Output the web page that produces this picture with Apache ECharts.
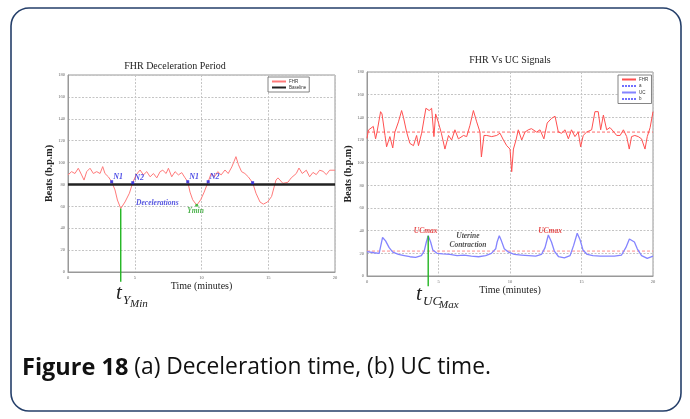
<!DOCTYPE html>
<html><head><meta charset="utf-8">
<script src="https://cdn.jsdelivr.net/npm/echarts@6/dist/echarts.min.js"></script>
<style>html,body{margin:0;padding:0;background:#fff}#c{width:690px;height:419px}</style>
</head><body><div id="c"></div>
<script>
// ---- data ----
const xTicks = [0, 5, 10, 15, 20];
const yTicks = [0, 20, 40, 60, 80, 100, 120, 140, 160, 180];
const titleA = 'FHR Deceleration Period';
const titleB = 'FHR Vs UC Signals';
const fhrA = [[0,88.7],[0.27,91.7],[0.52,90],[0.77,94.8],[1.02,88.7],[1.2,84],[1.4,91.7],[1.65,94.8],[1.9,90],[2.15,91.7],[2.4,90],[2.6,96.3],[2.77,90],[3.02,87],[3.27,82.5],[3.52,75],[3.7,65.8],[3.95,58],[4.27,64],[4.6,72],[4.85,81.6],[5.1,88.7],[5.4,93.2],[5.65,88.7],[5.9,91.7],[6.15,87],[6.4,90],[6.65,86],[6.9,91.7],[7.1,93],[7.35,90],[7.52,94.8],[7.77,87],[8.02,91.7],[8.27,88.7],[8.52,90.8],[8.77,86],[8.97,82.5],[9.14,73],[9.34,66],[9.64,61],[9.94,66],[10.2,73],[10.5,82.5],[10.72,90],[10.97,87],[11.22,91.7],[11.47,88.7],[11.76,93.2],[12.0,90],[12.27,96],[12.43,100.8],[12.58,105.4],[12.77,98],[13.0,91.7],[13.25,90],[13.5,87],[13.83,81.6],[14.08,72],[14.38,64],[14.63,62],[14.95,64],[15.25,69],[15.58,84],[15.73,86],[16.1,81],[16.47,82],[16.72,86],[17.1,90],[17.3,95],[17.55,90],[17.85,93],[18.1,87],[18.35,91],[18.6,89],[18.85,93],[19.1,92],[19.35,89],[19.6,93],[20,93]];
const baselineA = 80;
const nPointsA = [[3.27,82.5,'N1'],[4.85,81.6,'N2'],[8.97,82.5,'N1'],[10.5,82.5,'N2'],[13.83,81.6,'']];
const yMinA = [3.95, 58];
const yMinA2 = [9.64, 61];
const guideBottom = -9;
const notesA = [[5.1,62.6,'Decelerations']];
const notesA2 = [[9.55,55.5,'Ymin']];
const fhrB = [[0,121.4],[0.1,128.8],[0.44,132],[0.6,121],[0.7,127],[0.95,145],[1.05,143],[1.26,124],[1.37,114],[1.6,123],[1.8,113],[1.95,127],[2.2,136],[2.42,146],[2.55,140],[2.77,127],[3.0,117],[3.25,115],[3.47,124],[3.6,115],[3.82,126],[4.12,148],[4.35,146],[4.52,148],[4.68,123],[4.8,143],[4.98,136],[5.2,126],[5.45,112],[5.7,124],[5.92,120],[6.15,129],[6.39,121],[6.75,124],[6.97,123],[7.2,133],[7.44,146],[7.67,136],[7.9,127],[8.0,105],[8.18,124],[8.37,124],[8.72,123],[9.07,124],[9.3,126],[9.54,120],[9.77,115],[10.0,112],[10.12,92],[10.24,112],[10.42,120],[10.58,129],[10.82,120],[11.05,127],[11.28,129],[11.5,130],[11.86,127],[12.1,129],[12.37,121],[12.6,135],[12.9,139],[13.15,141],[13.38,127],[13.6,126],[13.85,129],[14.08,121],[14.3,129],[14.54,123],[14.77,127],[14.94,114],[15.12,124],[15.36,127],[15.71,129],[15.94,145],[16.17,145],[16.34,129],[16.53,142],[16.76,129],[16.99,131],[17.27,127],[17.46,124],[17.7,124],[17.93,129],[18.16,123],[18.34,112],[18.5,123],[18.73,124],[18.97,123],[19.2,121],[19.44,112],[19.6,123],[19.8,131],[20,145]];
const ucB = [[0,21.5],[0.5,20.5],[0.85,20],[0.95,26],[1.09,34],[1.3,31],[1.55,25],[1.8,21],[2.2,19],[2.6,18],[3.0,17],[3.4,16.5],[3.8,18],[4.0,22],[4.15,30],[4.28,35.5],[4.45,30],[4.6,23],[4.9,20],[5.3,19.5],[5.8,19],[6.3,18],[6.8,18.5],[7.3,17.5],[7.8,17],[8.3,18],[8.7,20],[9.0,24],[9.1,30],[9.25,35.5],[9.4,31],[9.6,24],[9.9,21],[10.3,19],[10.8,18.5],[11.3,18],[11.8,17.5],[12.2,19],[12.45,25],[12.68,36.2],[12.9,30],[13.1,22],[13.4,17],[13.8,16],[14.2,18],[14.45,27],[14.7,37.7],[14.9,32],[15.1,23],[15.4,19],[15.8,18],[16.3,17.5],[16.8,17.5],[17.3,17.5],[17.8,18.5],[18.1,25],[18.35,32.7],[18.7,30],[18.9,24],[19.2,18],[19.6,15.5],[20,17.5]];
const refA = 127;
const refB = 22;
const ucMaxB = [4.28, 35.5];
const notesB = [[4.1,40,'UCmax'],[12.8,40,'UCmax']];
const notesB2 = [[7.06,35.3,'Uterine'],[7.06,27.3,'Contraction']];
const legendA = ['FHR', 'Baseline'];
const legendB = ['FHR ', 'a', 'UC', 'b'];
const caption = ['Figure 18', ' (a) Deceleration time, (b) UC time.'];

// ---- chart ----
const serif = 'Liberation Serif';
const xMin = xTicks[0], xMax = xTicks[xTicks.length-1];
const yMin = yTicks[0], yMax = yTicks[yTicks.length-1];
function xAxis(idx){
  return {gridIndex: idx, type:'value', min:xMin, max:xMax, interval:xTicks[1]-xTicks[0],
    name:'Time (minutes)', nameLocation:'middle', nameGap:9,
    nameTextStyle:{fontFamily:serif, fontSize:10, color:'#222'},
    axisLine:{show:true, onZero:false, lineStyle:{color:'#999', width:1}},
    axisTick:{show:false},
    axisLabel:{fontSize:4.5, color:'#666', margin:3, fontFamily:serif},
    splitLine:{show:true, lineStyle:{color:'#c4c4c4', type:[2,1.5], width:1}}};
}
function yAxis(idx){
  return {gridIndex: idx, type:'value', min:yMin, max:yMax, interval:yTicks[1]-yTicks[0],
    name:'Beats (b.p.m)', nameLocation:'middle', nameGap:13,
    nameTextStyle:{fontFamily:serif, fontSize:10, color:'#222', fontWeight:'bold'},
    axisLine:{show:true, lineStyle:{color:'#999', width:1}},
    axisTick:{show:false},
    axisLabel:{fontSize:4.5, color:'#666', margin:3, fontFamily:serif},
    splitLine:{show:true, lineStyle:{color:'#c4c4c4', type:[2,1.5], width:1}}};
}
const noteLabel = (color, pos) => ({show:true, position:pos, distance:0,
  formatter:p=>p.data[2], color:color, fontFamily:serif, fontStyle:'italic', fontWeight:'bold', fontSize:7.5});

const chart = echarts.init(document.getElementById('c'), null, {renderer:'canvas'});
chart.setOption({
  animation:false,
  backgroundColor:'#fff',
  title:[
    {text:titleA, left:175, top:61, textAlign:'center', padding:0,
     textStyle:{fontFamily:serif, fontSize:10, fontWeight:'normal', color:'#222'}},
    {text:titleB, left:510, top:55, textAlign:'center', padding:0,
     textStyle:{fontFamily:serif, fontSize:10, fontWeight:'normal', color:'#222'}}
  ],
  grid:[
    {left:68, right:355, top:75, bottom:147, show:true, borderColor:'#999', borderWidth:1, backgroundColor:'#fff'},
    {left:367, right:37, top:72, bottom:143, show:true, borderColor:'#999', borderWidth:1, backgroundColor:'#fff'}
  ],
  xAxis:[xAxis(0), xAxis(1)],
  yAxis:[yAxis(0), yAxis(1)],
  legend:[
    {data:legendA, left:268, top:77, orient:'vertical', itemGap:1, itemWidth:14, itemHeight:4,
     padding:[2,3,2,3], borderColor:'#666', borderWidth:0.8, backgroundColor:'#fff', selectedMode:false,
     itemStyle:{opacity:0},
     textStyle:{fontSize:4.5, color:'#333', width:40, padding:[0,0,0,-2]}},
    {data:[{name:legendB[0]},
           {name:legendB[1], itemStyle:{color:'#7070ff', opacity:0}, lineStyle:{color:'#7070ff', type:[2,1]}},
           {name:legendB[2]},
           {name:legendB[3], itemStyle:{color:'#7070ff', opacity:0}, lineStyle:{color:'#7070ff', type:[2,1]}}],
     left:618, top:75, orient:'vertical', itemGap:1.5, itemWidth:14, itemHeight:4.5,
     padding:[2,2,2,3], borderColor:'#666', borderWidth:0.8, backgroundColor:'#fff', selectedMode:false,
     itemStyle:{opacity:0},
     textStyle:{fontSize:4.5, color:'#333', width:8, padding:[0,0,0,-2]}}
  ],
  series:[
    {name:legendA[0], type:'line', xAxisIndex:0, yAxisIndex:0, data:fhrA, symbol:'none',
     lineStyle:{color:'#ff7a7a', width:1}, itemStyle:{color:'#ff7a7a'}, z:3},
    {name:legendA[1], type:'line', xAxisIndex:0, yAxisIndex:0, data:[[xMin,baselineA],[xMax,baselineA]], symbol:'none',
     lineStyle:{color:'#222', width:2.4}, itemStyle:{color:'#222'}, z:4},
    {type:'scatter', xAxisIndex:0, yAxisIndex:0, data:nPointsA, symbol:'rect', symbolSize:3,
     itemStyle:{color:'#2020e0'}, z:6,
     label:{show:true, position:'right', distance:0, offset:[0,-5], formatter:p=>p.data[2],
       color:'#2020e0', fontFamily:serif, fontStyle:'italic', fontWeight:'bold', fontSize:8}},
    {type:'line', xAxisIndex:0, yAxisIndex:0, data:[yMinA,[yMinA[0],guideBottom]], symbol:'none', clip:false,
     lineStyle:{color:'#22b522', width:1.4}, z:5},
    {type:'scatter', xAxisIndex:0, yAxisIndex:0, data:[yMinA2], symbolSize:3, itemStyle:{color:'#22b522'}, z:6},
    {type:'scatter', xAxisIndex:0, yAxisIndex:0, data:notesA, symbolSize:0, label:noteLabel('#2a2ad8','right'), z:6},
    {type:'scatter', xAxisIndex:0, yAxisIndex:0, data:notesA2, symbolSize:0, label:noteLabel('#22a022','inside'), z:6},

    {name:legendB[0], type:'line', xAxisIndex:1, yAxisIndex:1, data:fhrB, symbol:'none',
     lineStyle:{color:'#ff4f4f', width:1}, itemStyle:{color:'#ff4f4f'}, z:3},
    {name:legendB[1], type:'line', xAxisIndex:1, yAxisIndex:1, data:[[xMin,refA],[xMax,refA]], symbol:'none',
     lineStyle:{color:'#ff6a6a', width:1, type:[3,2]}, itemStyle:{color:'#ff6a6a'}, z:2},
    {name:legendB[2], type:'line', xAxisIndex:1, yAxisIndex:1, data:ucB, symbol:'none',
     lineStyle:{color:'#8484ff', width:1.3}, itemStyle:{color:'#8484ff'}, z:3},
    {name:legendB[3], type:'line', xAxisIndex:1, yAxisIndex:1, data:[[xMin,refB],[xMax,refB]], symbol:'none',
     lineStyle:{color:'#ff8a8a', width:1, type:[3,2]}, itemStyle:{color:'#ff8a8a'}, z:2},
    {type:'line', xAxisIndex:1, yAxisIndex:1, data:[ucMaxB,[ucMaxB[0],guideBottom]], symbol:'none', clip:false,
     lineStyle:{color:'#22b522', width:1.4}, z:5},
    {type:'scatter', xAxisIndex:1, yAxisIndex:1, data:notesB, symbolSize:0, label:noteLabel('#e02020','inside'), z:6},
    {type:'scatter', xAxisIndex:1, yAxisIndex:1, data:notesB2, symbolSize:0, label:noteLabel('#222','inside'), z:6}
  ],
  graphic:[
    {type:'rect', shape:{x:11, y:8, width:670, height:403, r:18}, silent:true,
     style:{fill:'none', stroke:'#253f6a', lineWidth:1.6}, z:0},
    {type:'text', x:116, y:283, style:{text:'t', fontFamily:serif, fontStyle:'italic', fontSize:21, fill:'#222', verticalAlign:'top'}},
    {type:'text', x:123, y:294, style:{text:'Y', fontFamily:serif, fontStyle:'italic', fontSize:13, fill:'#222', verticalAlign:'top'}},
    {type:'text', x:130, y:299, style:{text:'Min', fontFamily:serif, fontStyle:'italic', fontSize:11, fill:'#222', verticalAlign:'top'}},
    {type:'text', x:416, y:284, style:{text:'t', fontFamily:serif, fontStyle:'italic', fontSize:21, fill:'#222', verticalAlign:'top'}},
    {type:'text', x:423, y:295, style:{text:'UC', fontFamily:serif, fontStyle:'italic', fontSize:13, fill:'#222', verticalAlign:'top'}},
    {type:'text', x:439, y:300, style:{text:'Max', fontFamily:serif, fontStyle:'italic', fontSize:11, fill:'#222', verticalAlign:'top'}},
    {type:'text', x:22, y:368, style:{text:'{b|'+caption[0]+'}{n|'+caption[1]+'}', verticalAlign:'middle',
      rich:{b:{fontFamily:'Open Sans', fontWeight:'bold', fontSize:23.5, fill:'#111'},
            n:{fontFamily:'Open Sans', fontSize:22.8, fill:'#111'}}}}
  ]
});
</script></body></html>
